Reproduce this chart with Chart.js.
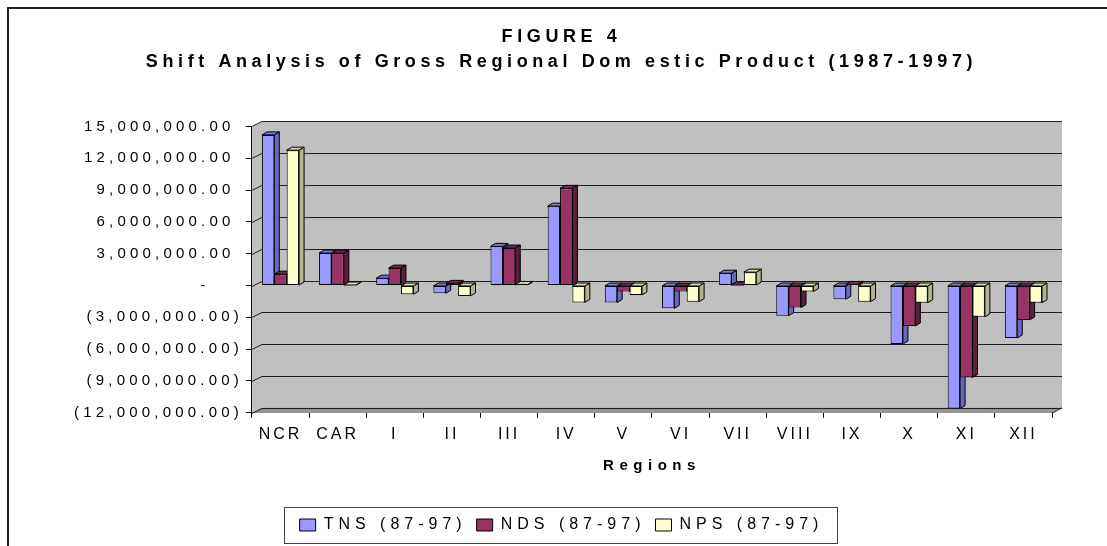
<!DOCTYPE html>
<html>
<head>
<meta charset="utf-8">
<title>Shift Analysis of Gross Regional Domestic Product</title>
<script src="https://cdn.jsdelivr.net/npm/chart.js@4.4.1/dist/chart.umd.min.js"></script>
<style>
  html, body { margin: 0; padding: 0; background: #fff; }
  #wrap { width: 1107px; height: 546px; }
</style>
</head>
<body>
<div id="wrap"><canvas id="grdp"></canvas></div>
<script>
// regions and shift components, in pesos
const regions = ['NCR', 'CAR', 'I', 'II', 'III', 'IV', 'V', 'VI', 'VII', 'VIII', 'IX', 'X', 'XI', 'XII'];
const tns = [14200000, 3060000, 690000, -730000, 3690000, 7480000, -1600000, -2150000, 1160000, -2840000, -1300000, -5520000, -11600000, -4950000];
const nds = [1070000, 3060000, 1640000, 200000, 3530000, 9160000, -570000, -570000, 50000, -2080000, 100000, -3820000, -8670000, -3250000];
const nps = [12760000, 50000, -830000, -980000, 100000, -1590000, -890000, -1520000, 1260000, -570000, -1520000, -1620000, -2950000, -1620000];
const seriesNames = ['TNS (87-97)', 'NDS (87-97)', 'NPS (87-97)'];
const titleLines = ['FIGURE 4', 'Shift Analysis of Gross Regional Dom estic Product (1987-1997)'];

const fill = ['#9999ff', '#993366', '#ffffcc'];
const side = ['#6767bd', '#5c1e3e', '#b4b48a'];
const topFace = ['#7b7bd8', '#722a4e', '#d8d8a8'];

// depth of the walls and of the columns
const WALL_X = 10, WALL_Y = 5, BAR_X = 5, BAR_Y = 3;

Chart.defaults.font.family = "'Liberation Sans', Arial, sans-serif";
Chart.defaults.color = '#000';

// canvas letter spacing per element (Chart.js has no option for it)
function spaced(proto, method, pick) {
    const orig = proto[method];
    proto[method] = function () {
        const ctx = this.ctx;
        const prev = ctx.letterSpacing;
        ctx.letterSpacing = pick(this);
        try { return orig.apply(this, arguments); }
        finally { ctx.letterSpacing = prev; }
    };
}
const axisSpacing = s => s.axis === 'y' ? '4.2px' : '3px';
spaced(Chart.Scale.prototype, 'update', axisSpacing);
spaced(Chart.Scale.prototype, 'drawLabels', axisSpacing);
spaced(Chart.Scale.prototype, 'drawTitle', () => '5.5px');
if (Chart.Legend && Chart.Legend._element) {
    spaced(Chart.Legend._element.prototype, 'fit', () => '5px');
    spaced(Chart.Legend._element.prototype, 'draw', () => '5px');
}
if (Chart.Title && Chart.Title._element) {
    spaced(Chart.Title._element.prototype, 'draw', () => '4.6px');
}

// accounting style: 15,000,000.00  (3,000,000.00)  -
function acct(v) {
    if (v === 0) return '-    ';
    const s = Math.abs(v).toLocaleString('en-US', { minimumFractionDigits: 2, maximumFractionDigits: 2 });
    return v < 0 ? '(' + s + ')' : s + ' ';
}

function poly(ctx, pts, fillStyle, stroke) {
    ctx.beginPath();
    ctx.moveTo(pts[0][0], pts[0][1]);
    for (let i = 1; i < pts.length; i++) ctx.lineTo(pts[i][0], pts[i][1]);
    ctx.closePath();
    if (fillStyle) { ctx.fillStyle = fillStyle; ctx.fill(); }
    if (stroke) { ctx.strokeStyle = stroke; ctx.lineWidth = 1; ctx.stroke(); }
}

// walls, floor, gridlines and the side/top faces of the columns
const depth = {
    id: 'depth',
    beforeDatasetsDraw(chart) {
        const { ctx, chartArea: a } = chart;
        const y = chart.scales.y;
        ctx.save();
        poly(ctx, [[a.left, a.top], [a.left + WALL_X, a.top - WALL_Y], [a.right + WALL_X, a.top - WALL_Y],
                   [a.right + WALL_X, a.bottom - WALL_Y], [a.right, a.bottom], [a.left, a.bottom]], '#c0c0c0');
        poly(ctx, [[a.left, a.bottom], [a.left + WALL_X, a.bottom - WALL_Y],
                   [a.right + WALL_X, a.bottom - WALL_Y], [a.right, a.bottom]], '#969696');

        ctx.strokeStyle = '#1e1e1e';
        ctx.lineWidth = 1;
        y.ticks.forEach(t => {
            const py = Math.round(y.getPixelForValue(t.value)) + 0.5;
            ctx.beginPath();
            ctx.moveTo(a.left, py);
            ctx.lineTo(a.left + WALL_X, py - WALL_Y);
            ctx.lineTo(a.right + WALL_X, py - WALL_Y);
            ctx.stroke();
        });
        ctx.beginPath();
        ctx.moveTo(a.right, a.bottom + 0.5);
        ctx.lineTo(a.right + WALL_X, a.bottom - WALL_Y);
        ctx.stroke();

        chart.data.datasets.forEach((ds, i) => {
            chart.getDatasetMeta(i).data.forEach(bar => {
                const p = bar.getProps(['x', 'y', 'base', 'width'], true);
                const l = p.x - p.width / 2, r = p.x + p.width / 2;
                const hi = Math.min(p.y, p.base), lo = Math.max(p.y, p.base);
                poly(ctx, [[r, hi], [r + BAR_X, hi - BAR_Y], [r + BAR_X, lo - BAR_Y], [r, lo]], side[i], '#000');
                poly(ctx, [[l, hi], [l + BAR_X, hi - BAR_Y], [r + BAR_X, hi - BAR_Y], [r, hi]], topFace[i], '#000');
            });
        });
        ctx.restore();
    },
    afterDraw(chart) {
        const ctx = chart.ctx;
        ctx.save();
        // box round the legend
        const lg = chart.legend;
        if (lg && lg.legendHitBoxes.length) {
            const boxes = lg.legendHitBoxes;
            const x0 = Math.min(...boxes.map(b => b.left)) - 16;
            const x1 = Math.max(...boxes.map(b => b.left + b.width)) + 13;
            ctx.strokeStyle = '#444';
            ctx.lineWidth = 1;
            ctx.strokeRect(Math.round(x0) + 0.5, Math.round(lg.top) + 0.5, Math.round(x1 - x0), Math.round(lg.height));
        }
        // outer frame (top and left edges)
        ctx.strokeStyle = '#222';
        ctx.lineWidth = 2;
        ctx.beginPath();
        ctx.moveTo(8, 546);
        ctx.lineTo(8, 8);
        ctx.lineTo(1107, 8);
        ctx.stroke();
        ctx.restore();
    }
};

const series = [tns, nds, nps];
new Chart(document.getElementById('grdp').getContext('2d'), {
    type: 'bar',
    data: {
        labels: regions,
        datasets: series.map((vals, i) => ({
            label: seriesNames[i],
            data: vals,
            backgroundColor: fill[i],
            borderColor: '#000',
            borderWidth: 1,
            borderSkipped: false,
            barPercentage: 1.0,
            categoryPercentage: 0.65
        }))
    },
    options: {
        responsive: true,
        maintainAspectRatio: false,
        animation: false,
        layout: { padding: { left: 71, right: 55, top: 0, bottom: 3 } },
        plugins: {
            title: {
                display: true,
                text: titleLines,
                font: { size: 18, weight: 'bold', lineHeight: 1.4 },
                color: '#000',
                padding: { top: 24, bottom: 52 }
            },
            legend: {
                position: 'bottom',
                labels: {
                    boxWidth: 16,
                    boxHeight: 12,
                    padding: 10,
                    font: { size: 16 },
                    color: '#000'
                }
            },
            tooltip: { enabled: false }
        },
        scales: {
            x: {
                grid: { offset: true, drawOnChartArea: false, color: '#000', tickLength: 5 },
                border: { color: '#000' },
                ticks: { autoSkip: false, maxRotation: 0, padding: 7, font: { size: 16 }, color: '#000' },
                title: {
                    display: true,
                    text: 'Regions',
                    font: { size: 15, weight: 'bold', lineHeight: 1.2 },
                    color: '#000',
                    padding: { top: 6, bottom: 32 }
                }
            },
            y: {
                min: -12000000,
                max: 15000000,
                grid: { drawOnChartArea: false, color: '#000', tickLength: 6 },
                border: { color: '#000' },
                ticks: { stepSize: 3000000, padding: 3, font: { size: 15 }, color: '#000', callback: v => acct(v) }
            }
        }
    },
    plugins: [depth]
});
</script>
</body>
</html>
